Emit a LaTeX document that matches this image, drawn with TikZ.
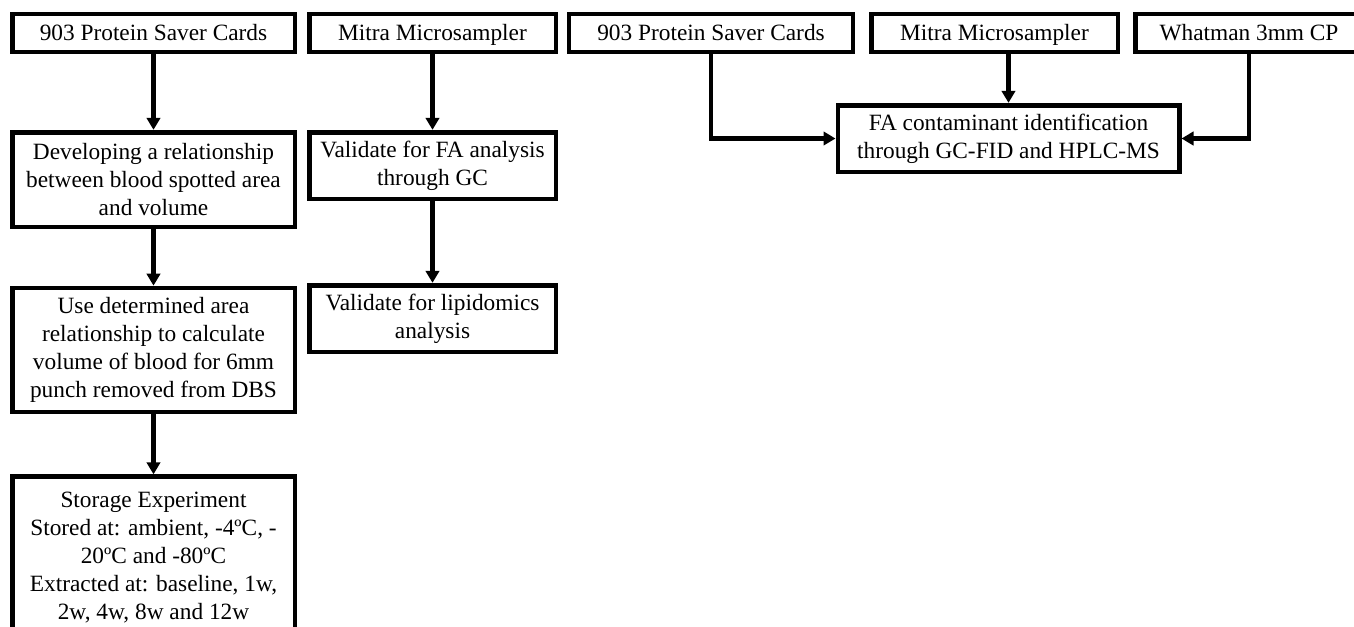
\documentclass[tikz,border=0pt]{standalone}
\usepackage{fontspec}
\setmainfont{Liberation Serif}
\usetikzlibrary{
	arrows.meta,
	positioning,
	calc
}

\begin{document}
\begin{tikzpicture}[
		x=0.75pt, y=-0.75pt,
		box/.style={draw, rectangle, line width=3.5pt, align=center, inner sep=0pt, minimum width=212pt, font=\fontsize{17.5}{21}\selectfont},
		smallbox/.style={box, minimum width=185pt},
		oneline/.style={minimum height=28.5pt, text height=13pt, text depth=2pt},
		arrow/.style={-{Triangle[length=9pt,width=10pt]}, line width=3.2pt}
		]
		\clip (0,0) rectangle (1354,626);
		
		% --- Protein saver column ---
		\node[box, oneline] (pcA) at (153.5,33)
		{903 Protein Saver Cards};
		
		\node[box, minimum height=71pt] (relA) at (153.5,179.5)
		{Developing a relationship \\ between blood spotted area \\ and volume};
		
		\node[box, minimum height=93pt] (volA) at (153.5,350)
		{Use determined area \\ relationship to calculate \\ volume of blood for 6mm \\ punch removed from DBS};
		
		\node[box, minimum height=122pt] (storA) at (153.5,558)
		{Storage Experiment \\ Stored at: ambient, -4ºC, - \\ 20ºC and -80ºC \\ Extracted at: baseline, 1w, \\ 2w, 4w, 8w and 12w};
		
		% --- Mitra column ---
		\node[smallbox, oneline] (mitB) at (432.5,33)
		{Mitra Microsampler};
		
		\node[smallbox, minimum height=50pt] (gcB) at (432.5,165.5)
		{Validate for FA analysis \\ through GC};
		
		\node[smallbox, minimum height=50pt] (lipB) at (432.5,318.5)
		{Validate for lipidomics \\ analysis};
		
		% --- Contaminant sources ---
		\node[box, oneline, minimum width=213pt] (pcC) at (711,33)
		{903 Protein Saver Cards};
		
		\node[smallbox, oneline] (mitC) at (994.5,33)
		{Mitra Microsampler};
		
		\node[box, oneline, minimum width=170pt] (whatC) at (1249,33)
		{Whatman 3mm CP};
		
		\node[box, minimum width=256pt, minimum height=50pt] (faC) at (1008.5,138.5)
		{FA contaminant identification \\ through GC-FID and HPLC-MS};
		
		% --- Arrows ---
		\draw[arrow] (pcA) -- (relA);
		\draw[arrow] (relA) -- (volA);
		\draw[arrow] (volA) -- (storA);
		
		\draw[arrow] (mitB) -- (gcB);
		\draw[arrow] (gcB) -- (lipB);
		
		\draw[arrow] (pcC) |- (faC);
		\draw[arrow] (mitC.south -| faC) -- (faC);
		\draw[arrow] (whatC) |- (faC);
		
	\end{tikzpicture}
\end{document}
